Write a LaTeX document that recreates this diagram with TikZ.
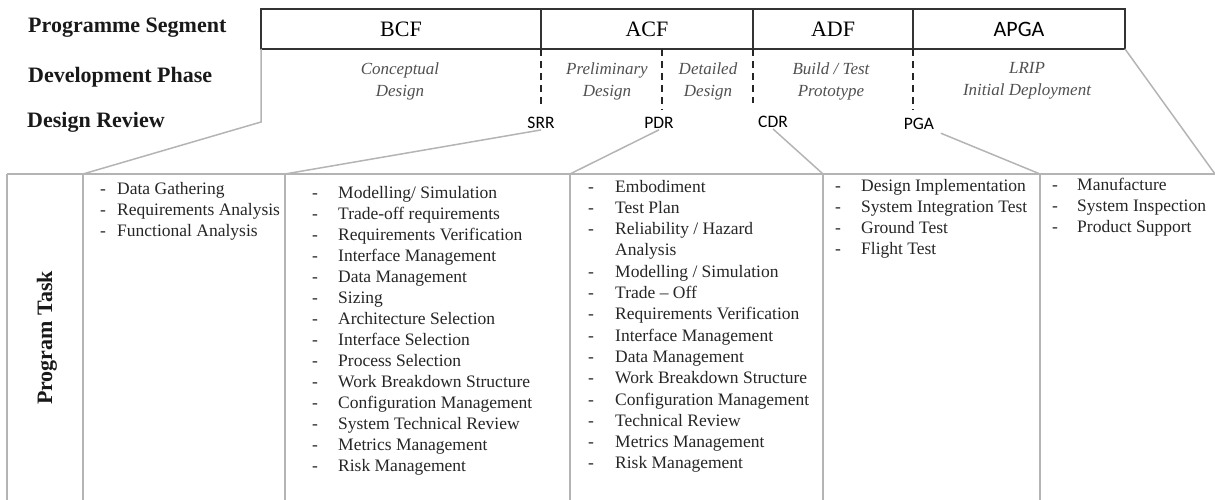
\documentclass[tikz,border=0pt]{standalone}
\usepackage{fontspec}
\setmainfont{Liberation Serif}
\newfontfamily\calibfont{Carlito}
\usetikzlibrary{positioning}
\definecolor{boxline}{HTML}{333333}
\definecolor{tablegray}{HTML}{B4B4B4}
\definecolor{phasetext}{HTML}{505050}
\definecolor{itemtext}{HTML}{262626}
\tikzset{
        x=1pt, y=-1pt, % one unit is one pixel of the page, y runs down
        head/.style={font=\fontsize{22}{26}\selectfont\bfseries, text=black!90, inner sep=0pt},
        segment/.style={draw=boxline, line width=1.5pt, minimum height=40pt, inner sep=0pt, outer sep=0pt, font=\fontsize{22}{26}\selectfont},
        phase/.style={align=center, text=phasetext, font=\fontsize{17}{22}\selectfont\itshape},
        review/.style={font=\calibfont\fontsize{17.5}{19}\selectfont, inner sep=1pt},
        divider/.style={draw=black!85, line width=2.2pt, dash pattern=on 7pt off 5pt},
        link/.style={draw=tablegray, line width=1.5pt},
        tableline/.style={draw=tablegray, line width=1.5pt},
        item/.style={anchor=west, inner sep=0pt, text height=12pt, text depth=4pt, text=itemtext, font=\fontsize{17.5}{21}\selectfont},
}
\begin{document}
\begin{tikzpicture}
\useasboundingbox (0,0) rectangle (1215,500);

\node[head, anchor=west] (rowseg) at (28,28) {Programme Segment};
\node[head, anchor=west] (rowphase) at (28,77) {Development Phase};
\node[head, anchor=west] (rowrev) at (27,122) {Design Review};
\node[head, rotate=90] (task) at (47,338) {Program Task};

\node[segment, minimum width=280pt] (bcf) at (401,29) {BCF};
\node[segment, minimum width=212pt] (acf) at (647,29) {ACF};
\node[segment, minimum width=160pt] (adf) at (833,29) {ADF};
\node[segment, minimum width=212pt] (apga) at (1019,29) {\calibfont APGA};

\node[phase] (concept) at (400,81) {Conceptual\\Design};
\node[phase] (prelim) at (607,81) {Preliminary\\Design};
\node[phase] (detail) at (708,81) {Detailed\\Design};
\node[phase] (build) at (831,81) {Build / Test\\Prototype};
\node[phase] (lrip) at (1027,81) {LRIP\\Initial Deployment};

\node[review] (srr) at (541,123) {SRR};
\node[review] (pdr) at (659,123) {PDR};
\node[review] (cdr) at (773,122) {CDR};
\node[review] (pga) at (919,124) {PGA};

\coordinate (d1) at (541,105);
\coordinate (d2) at (662,110);
\coordinate (d3) at (753,103);
\coordinate (d4) at (913,110);
\draw[divider] (bcf.south east) -- (d1);
\draw[divider] (acf.south -| d2) -- (d2);
\draw[divider] (acf.south east) -- (d3);
\draw[divider] (adf.south east) -- (d4);

\foreach \x [count=\i] in {7,83,285,570,823,1040}
  \coordinate (c\i) at (\x,174);
\coordinate (c7) at (1215,174);
\coordinate (k1) at (261,122);
\draw[tableline] (c1) -- (c7);
\foreach \i in {1,...,6}
  \draw[tableline] (c\i) -- ++(0,326);

\draw[link] (bcf.south west) -- (k1) -- (c2);
\draw[link] (srr.south) -- (c3);
\draw[link] (pdr.south) -- (c4);
\draw[link] (cdr.south) -- (c5);
\draw[link, shorten <=6pt] (pga.south east) -- (c6);
\draw[link] (apga.south east) -- (c7);

\foreach \t [count=\i from 0] in {Data Gathering, Requirements Analysis, Functional Analysis}{
  \node[item] at (100,{190+21*\i}) {-};
  \node[item] (bcft\i) at (117,{190+21*\i}) {\t};
}
\foreach \t [count=\i from 0] in {Modelling/ Simulation, Trade-off requirements, Requirements Verification, Interface Management, Data Management, Sizing, Architecture Selection, Interface Selection, Process Selection, Work Breakdown Structure, Configuration Management, System Technical Review, Metrics Management, Risk Management}{
  \node[item] at (312,{194+21*\i}) {-};
  \node[item] (prelimt\i) at (338,{194+21*\i}) {\t};
}
\foreach \t [count=\i from 0] in {Embodiment, Test Plan, Reliability / Hazard, Analysis, Modelling / Simulation, Trade – Off, Requirements Verification, Interface Management, Data Management, Work Breakdown Structure, Configuration Management, Technical Review, Metrics Management, Risk Management}
  \node[item] (detailt\i) at (615,{188+21.3*\i}) {\t};
\foreach \i in {0,1,2,4,5,...,13}
  \node[item] at (588,{188+21.3*\i}) {-};
\foreach \t [count=\i from 0] in {Design Implementation, System Integration Test, Ground Test, Flight Test}{
  \node[item] at (835,{187+21*\i}) {-};
  \node[item] (buildt\i) at (861,{187+21*\i}) {\t};
}
\foreach \t [count=\i from 0] in {Manufacture, System Inspection, Product Support}{
  \node[item] at (1052,{186+21*\i}) {-};
  \node[item] (lript\i) at (1077,{186+21*\i}) {\t};
}
\end{tikzpicture}
\end{document}
